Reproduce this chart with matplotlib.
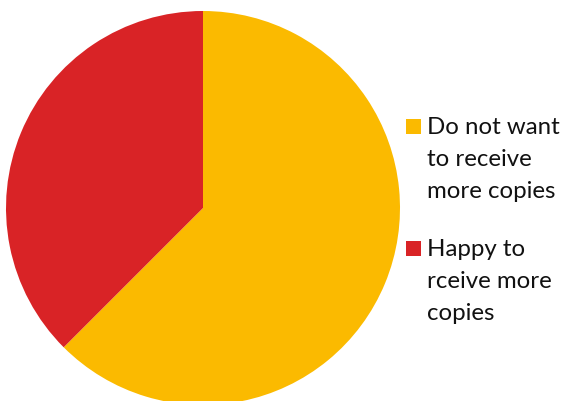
import matplotlib
matplotlib.use("Agg")
import matplotlib.pyplot as plt
from matplotlib.patches import Rectangle

# survey answers (share of respondents, %)
labels = ["Do not want\nto receive\nmore copies", "Happy to\nrceive more\ncopies"]
shares = [62.5, 37.5]
colors = ["#FBBA00", "#D92326"]

W, H = 566, 401
fig = plt.figure(figsize=(W / 100, H / 100), dpi=100)

# pie area: circle centred at (203, 208) px, radius 197 px
cx, cy, r = 203, 208, 197
ax = fig.add_axes([(cx - r) / W, (H - cy - r) / H, 2 * r / W, 2 * r / H])
ax.pie(shares, colors=colors, startangle=90, counterclock=False,
       wedgeprops=dict(linewidth=0))
ax.set_xlim(-1, 1)
ax.set_ylim(-1, 1)
ax.set_aspect("equal")
ax.axis("off")

# legend drawn by hand so each marker sits next to the first line of its label
entry_top = [119, 241]
for lab, col, top in zip(labels, colors, entry_top):
    fig.patches.append(Rectangle((406 / W, (H - top - 14.5) / H), 15 / W, 14.5 / H,
                                 transform=fig.transFigure, facecolor=col,
                                 edgecolor="none"))
    fig.text(427 / W, (H - top + 2) / H, lab, ha="left", va="top",
             fontsize=17.3, family="Lato", color="#111111", linespacing=1.65)

fig.savefig("out.png", dpi=100)
